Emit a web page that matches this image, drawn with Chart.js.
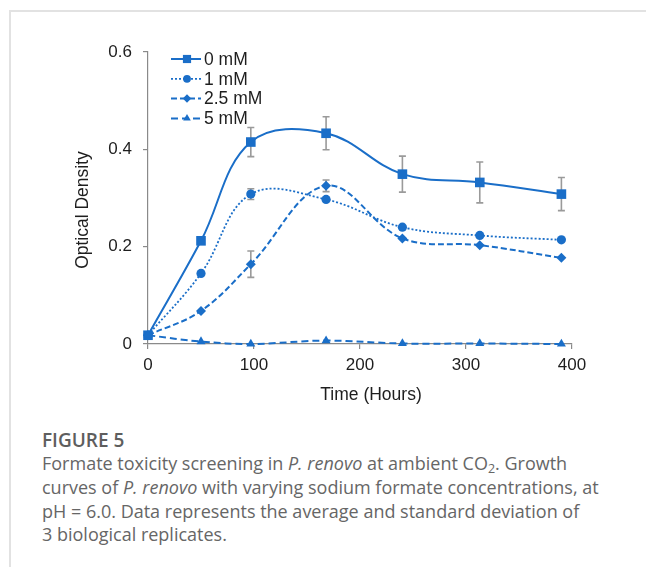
<!DOCTYPE html>
<html>
<head>
<meta charset="utf-8">
<script src="https://cdn.jsdelivr.net/npm/chart.js@4.4.0/dist/chart.umd.min.js"></script>
<style>
  html, body { margin: 0; padding: 0; background: #fff; }
  body { width: 646px; height: 567px; position: relative; overflow: hidden; }
  #frameTop { position: absolute; left: 9px; top: 10px; width: 637px; height: 2px; background: #e2e2e2; }
  #frameLeft { position: absolute; left: 9px; top: 10px; width: 2px; height: 557px; background: #e2e2e2; }
  #chart { position: absolute; left: 0; top: 0; }
  #caption { position: absolute; left: 42px; top: 428px; font-family: "Open Sans", "Noto Sans", sans-serif; color: #666; }
  #caption .fig { font-weight: 600; font-size: 19px; line-height: 24px; color: #5e5e5e; }
  #caption .body { font-size: 18px; line-height: 23.8px; white-space: nowrap; }
  #caption sub { font-size: 12.5px; vertical-align: -3px; line-height: 0; }
</style>
</head>
<body>
<div id="frameTop"></div>
<div id="frameLeft"></div>
<canvas id="chart" width="646" height="420"></canvas>
<div id="caption">
  <div class="fig">FIGURE 5</div>
  <div class="body">Formate toxicity screening in <i>P. renovo</i> at ambient CO<sub>2</sub>. Growth<br>curves of <i>P. renovo</i> with varying sodium formate concentrations, at<br>pH = 6.0. Data represents the average and standard deviation of<br>3 biological replicates.</div>
</div>
<script>
// ---- data ----
const timeHours = [0, 50, 97, 168, 240, 313, 390];
const seriesNames = ['0 mM', '1 mM', '2.5 mM', '5 mM'];
const od0mM   = [0.018, 0.212, 0.415, 0.433, 0.349, 0.332, 0.308];
const od1mM   = [0.018, 0.145, 0.308, 0.297, 0.240, 0.223, 0.214];
const od25mM  = [0.018, 0.068, 0.164, 0.325, 0.217, 0.203, 0.177];
const od5mM   = [0.018, 0.005, 0.000, 0.007, 0.001, 0.001, 0.000];
const sd0mM   = [0, 0, 0.030, 0.034, 0.037, 0.042, 0.034];
const sd1mM   = [0, 0, 0.011, 0, 0, 0, 0];
const sd25mM  = [0, 0, 0.027, 0.012, 0, 0, 0];
const sd5mM   = [0, 0, 0, 0, 0, 0, 0];
const xTickValues = [0, 100, 200, 300, 400];
const yTickLabels = ['0', '0.2', '0.4', '0.6'];
const xAxisTitle = 'Time (Hours)';
const yAxisTitle = 'Optical Density';

const BLUE = '#1a6ec8';
const AXIS = '#8a8a8a';
const FONT = '"Liberation Sans", Arial, sans-serif';

function pts(ys) { return timeHours.map((t, i) => ({ x: t, y: ys[i] })); }

const styles = [
  { dash: [], width: 2, point: 'rect', r: 6.8 },
  { dash: [2, 2], width: 1.8, point: 'circle', r: 4.6 },
  { dash: [6, 3], width: 2, point: 'rectRot', r: 5 },
  { dash: [7, 4], width: 2, point: 'triangle', r: 5.2 }
];
const values = [od0mM, od1mM, od25mM, od5mM];
const errors = [sd0mM, sd1mM, sd25mM, sd5mM];

const datasets = values.map((v, i) => ({
  label: seriesNames[i],
  data: pts(v),
  errors: errors[i],
  borderColor: BLUE,
  backgroundColor: BLUE,
  borderWidth: styles[i].width,
  borderDash: styles[i].dash,
  pointStyle: styles[i].point,
  pointRadius: styles[i].r,
  pointBorderWidth: 0,
  pointBackgroundColor: BLUE,
  tension: 0.38,
  clip: false,
  order: 3 - i
}));

const errorBars = {
  id: 'errorBars',
  beforeDatasetsDraw(chart) {
    const ctx = chart.ctx, xs = chart.scales.x, ys = chart.scales.y;
    ctx.save();
    ctx.strokeStyle = '#9a9a9a';
    ctx.lineWidth = 1.6;
    chart.data.datasets.forEach(ds => {
      ds.data.forEach((p, i) => {
        const e = ds.errors[i];
        if (!e) return;
        const x = xs.getPixelForValue(p.x);
        const yt = ys.getPixelForValue(p.y + e);
        const yb = ys.getPixelForValue(p.y - e);
        ctx.beginPath();
        ctx.moveTo(x, yt); ctx.lineTo(x, yb);
        ctx.moveTo(x - 3.5, yt); ctx.lineTo(x + 3.5, yt);
        ctx.moveTo(x - 3.5, yb); ctx.lineTo(x + 3.5, yb);
        ctx.stroke();
      });
    });
    ctx.restore();
  }
};

const customLegend = {
  id: 'customLegend',
  afterDraw(chart) {
    const ctx = chart.ctx, a = chart.chartArea;
    const x0 = a.left + 23, y0 = a.top + 7, step = 19.8;
    ctx.save();
    chart.data.datasets.forEach((ds, i) => {
      const y = y0 + i * step;
      ctx.strokeStyle = BLUE;
      ctx.lineWidth = ds.borderWidth;
      ctx.setLineDash(ds.borderDash);
      ctx.beginPath();
      ctx.moveTo(x0, y); ctx.lineTo(x0 + 30, y);
      ctx.stroke();
      ctx.setLineDash([]);
      ctx.fillStyle = BLUE;
      Chart.helpers.drawPoint(ctx, { pointStyle: ds.pointStyle, radius: ds.pointRadius * 0.85, rotation: 0, borderWidth: 0 }, x0 + 16, y);
      ctx.fillStyle = '#1e1e1e';
      ctx.font = '17.5px ' + FONT;
      ctx.textBaseline = 'middle';
      ctx.textAlign = 'left';
      ctx.fillText(ds.label, x0 + 33, y + 1);
    });
    ctx.restore();
  }
};

const axisTitles = {
  id: 'axisTitles',
  afterDraw(chart) {
    const ctx = chart.ctx, a = chart.chartArea;
    ctx.save();
    ctx.fillStyle = '#1e1e1e';
    ctx.font = '17.5px ' + FONT;
    ctx.textAlign = 'center';
    ctx.textBaseline = 'middle';
    ctx.fillText(xAxisTitle, (a.left + a.right) / 2 + 11, a.bottom + 51);
    ctx.translate(a.left - 65, (a.top + a.bottom) / 2 + 12);
    ctx.rotate(-Math.PI / 2);
    ctx.fillText(yAxisTitle, 0, 0);
    ctx.restore();
  }
};

new Chart(document.getElementById('chart'), {
  type: 'line',
  data: { datasets },
  options: {
    responsive: false,
    animation: false,
    events: [],
    layout: { padding: { left: 0, top: 52, right: 74, bottom: 0 } },
    plugins: { legend: { display: false }, tooltip: { enabled: false } },
    scales: {
      x: {
        type: 'linear',
        min: 0, max: 400,
        afterBuildTicks: s => { s.ticks = xTickValues.map(v => ({ value: v })); },
        afterFit: s => { s.height = 76; },
        border: { color: AXIS, width: 1.2 },
        grid: { drawOnChartArea: false, drawTicks: true, tickLength: 5, color: AXIS, lineWidth: 1.2 },
        ticks: { color: '#1e1e1e', font: { family: FONT, size: 17 }, padding: 6, maxRotation: 0 }
      },
      y: {
        type: 'linear',
        min: 0, max: 0.6,
        afterBuildTicks: s => { s.ticks = yTickLabels.map(l => ({ value: parseFloat(l) })); },
        afterFit: s => { s.width = 148; },
        border: { color: AXIS, width: 1.2 },
        grid: { drawOnChartArea: false, drawTicks: true, tickLength: 5, color: AXIS, lineWidth: 1.2 },
        ticks: {
          color: '#1e1e1e', font: { family: FONT, size: 17 }, padding: 11,
          callback: (v, i) => yTickLabels[i]
        }
      }
    }
  },
  plugins: [errorBars, customLegend, axisTitles]
});
</script>
</body>
</html>
